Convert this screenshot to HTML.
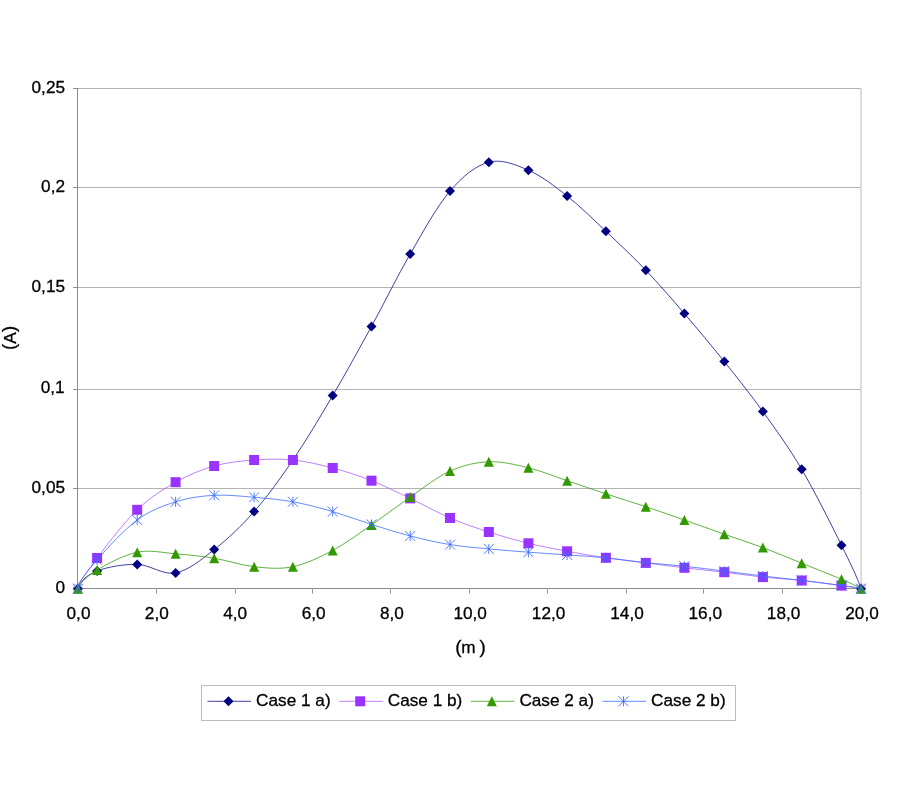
<!DOCTYPE html>
<html><head><meta charset="utf-8"><title>chart</title>
<style>
html,body{margin:0;padding:0;background:#fff;}
body{width:900px;height:800px;overflow:hidden;font-family:"Liberation Sans",sans-serif;}
svg{display:block;will-change:transform;}
text{font-family:"Liberation Sans",sans-serif;font-size:17.2px;fill:#000;stroke:#000;stroke-width:0.3px;}
</style></head><body>
<svg width="900" height="800" viewBox="0 0 900 800">
<rect width="900" height="800" fill="#fff"/>

<g stroke="#b4b4b4" stroke-width="1" fill="none">
<path d="M78 88.5H861"/>
<path d="M78 187.5H861"/>
<path d="M78 287.5H861"/>
<path d="M78 389.5H861"/>
<path d="M78 488.5H861"/>
</g>
<path d="M861 88V588.5" stroke="#d4d4d4" stroke-width="1.6" fill="none"/>
<g stroke="#8c8c8c" stroke-width="1" fill="none">
<path d="M77.5 88V589"/>
<path d="M77 588.5H861"/>
<path d="M73 88.5H78"/>
<path d="M73 187.5H78"/>
<path d="M73 287.5H78"/>
<path d="M73 389.5H78"/>
<path d="M73 488.5H78"/>
<path d="M73 588.5H78"/>
<path d="M77.50 588V593.6" stroke="#9a9a9a"/>
<path d="M156.50 588V593.6" stroke="#9a9a9a"/>
<path d="M235.50 588V593.6" stroke="#9a9a9a"/>
<path d="M312.50 588V593.6" stroke="#9a9a9a"/>
<path d="M390.50 588V593.6" stroke="#9a9a9a"/>
<path d="M469.50 588V593.6" stroke="#9a9a9a"/>
<path d="M547.50 588V593.6" stroke="#9a9a9a"/>
<path d="M626.50 588V593.6" stroke="#9a9a9a"/>
<path d="M703.50 588V593.6" stroke="#9a9a9a"/>
<path d="M782.50 588V593.6" stroke="#9a9a9a"/>
<path d="M861.50 588V593.6" stroke="#9a9a9a"/>
</g>
<text x="65.0" y="92.6" text-anchor="end">0,25</text>
<text x="65.0" y="191.6" text-anchor="end">0,2</text>
<text x="65.0" y="291.6" text-anchor="end">0,15</text>
<text x="64.6" y="393.4" text-anchor="end">0,1</text>
<text x="65.0" y="492.6" text-anchor="end">0,05</text>
<text x="65.0" y="592.6" text-anchor="end">0</text>
<text x="78.5" y="618.6" text-anchor="middle">0,0</text>
<text x="156.8" y="618.6" text-anchor="middle">2,0</text>
<text x="235.2" y="618.6" text-anchor="middle">4,0</text>
<text x="313.6" y="618.6" text-anchor="middle">6,0</text>
<text x="391.9" y="618.6" text-anchor="middle">8,0</text>
<text x="470.2" y="618.6" text-anchor="middle">10,0</text>
<text x="548.6" y="618.6" text-anchor="middle">12,0</text>
<text x="627.0" y="618.6" text-anchor="middle">14,0</text>
<text x="705.3" y="618.6" text-anchor="middle">16,0</text>
<text x="783.6" y="618.6" text-anchor="middle">18,0</text>
<text x="862.0" y="618.6" text-anchor="middle">20,0</text>
<text transform="translate(15.7 337.9) rotate(-90)" text-anchor="middle" font-size="17.6" letter-spacing="0.2"><tspan font-size="18.4" dy="-1">(</tspan><tspan dy="1">A</tspan><tspan font-size="18.4" dy="-1">)</tspan></text>
<text y="653.1" font-size="18"><tspan x="455.2" dy="0.3" font-size="18.8">(</tspan><tspan x="461.3" dy="-0.3">m</tspan><tspan x="479.6" dy="0.3" font-size="18.8">)</tspan></text>
<rect x="72.90" y="583.70" width="10.00" height="10.00" fill="#ebd2ff"/>
<rect x="856.00" y="583.70" width="10.00" height="10.00" fill="#ebd2ff"/>
<path d="M77.90 588.50 C78.86 587.62 79.31 578.23 97.10 571.00 C106.98 566.98 124.12 564.08 137.20 564.40 C150.28 564.72 162.77 575.37 175.60 572.90 C188.43 570.43 201.12 559.82 214.20 549.60 C227.28 539.38 240.98 526.53 254.10 511.60 C267.22 496.67 279.80 479.33 292.90 460.00 C306.00 440.67 319.60 417.87 332.70 395.60 C345.80 373.33 358.58 350.00 371.50 326.40 C384.42 302.80 397.12 276.55 410.20 254.00 C423.28 231.45 436.90 206.40 450.00 191.10 C463.10 175.80 475.73 165.68 488.80 162.20 C501.87 158.72 515.35 164.57 528.40 170.20 C541.45 175.83 554.18 185.82 567.10 196.00 C580.02 206.18 592.78 218.93 605.90 231.30 C619.02 243.67 632.72 256.48 645.80 270.20 C658.88 283.92 671.32 298.37 684.40 313.60 C697.48 328.83 711.22 345.27 724.30 361.60 C737.38 377.93 750.00 393.65 762.90 411.60 C775.80 429.55 788.60 447.03 801.70 469.30 C814.80 491.57 831.62 525.38 841.50 545.25 C859.29 581.01 860.02 586.34 861.00 588.50" stroke="#10108a" stroke-width="0.8" fill="none"/>
<path d="M77.90 583.70 l5.00 5.00 l-5.00 5.00 l-5.00 -5.00 z" fill="#000080"/>
<path d="M97.10 566.00 l5.00 5.00 l-5.00 5.00 l-5.00 -5.00 z" fill="#000080"/>
<path d="M137.20 559.40 l5.00 5.00 l-5.00 5.00 l-5.00 -5.00 z" fill="#000080"/>
<path d="M175.60 567.90 l5.00 5.00 l-5.00 5.00 l-5.00 -5.00 z" fill="#000080"/>
<path d="M214.20 544.60 l5.00 5.00 l-5.00 5.00 l-5.00 -5.00 z" fill="#000080"/>
<path d="M254.10 506.60 l5.00 5.00 l-5.00 5.00 l-5.00 -5.00 z" fill="#000080"/>
<path d="M292.90 455.00 l5.00 5.00 l-5.00 5.00 l-5.00 -5.00 z" fill="#000080"/>
<path d="M332.70 390.60 l5.00 5.00 l-5.00 5.00 l-5.00 -5.00 z" fill="#000080"/>
<path d="M371.50 321.40 l5.00 5.00 l-5.00 5.00 l-5.00 -5.00 z" fill="#000080"/>
<path d="M410.20 249.00 l5.00 5.00 l-5.00 5.00 l-5.00 -5.00 z" fill="#000080"/>
<path d="M450.00 186.10 l5.00 5.00 l-5.00 5.00 l-5.00 -5.00 z" fill="#000080"/>
<path d="M488.80 157.20 l5.00 5.00 l-5.00 5.00 l-5.00 -5.00 z" fill="#000080"/>
<path d="M528.40 165.20 l5.00 5.00 l-5.00 5.00 l-5.00 -5.00 z" fill="#000080"/>
<path d="M567.10 191.00 l5.00 5.00 l-5.00 5.00 l-5.00 -5.00 z" fill="#000080"/>
<path d="M605.90 226.30 l5.00 5.00 l-5.00 5.00 l-5.00 -5.00 z" fill="#000080"/>
<path d="M645.80 265.20 l5.00 5.00 l-5.00 5.00 l-5.00 -5.00 z" fill="#000080"/>
<path d="M684.40 308.60 l5.00 5.00 l-5.00 5.00 l-5.00 -5.00 z" fill="#000080"/>
<path d="M724.30 356.60 l5.00 5.00 l-5.00 5.00 l-5.00 -5.00 z" fill="#000080"/>
<path d="M762.90 406.60 l5.00 5.00 l-5.00 5.00 l-5.00 -5.00 z" fill="#000080"/>
<path d="M801.70 464.30 l5.00 5.00 l-5.00 5.00 l-5.00 -5.00 z" fill="#000080"/>
<path d="M841.50 540.25 l5.00 5.00 l-5.00 5.00 l-5.00 -5.00 z" fill="#000080"/>
<path d="M861.00 583.70 l5.00 5.00 l-5.00 5.00 l-5.00 -5.00 z" fill="#000080"/>
<path d="M77.90 588.50 C78.86 586.98 72.19 591.05 97.10 558.00 C106.98 544.88 124.12 522.43 137.20 509.80 C150.28 497.17 162.77 489.50 175.60 482.20 C188.43 474.90 201.12 469.70 214.20 466.00 C227.28 462.30 240.98 461.00 254.10 460.00 C267.22 459.00 279.80 458.67 292.90 460.00 C306.00 461.33 319.60 464.55 332.70 468.00 C345.80 471.45 358.58 475.63 371.50 480.70 C384.42 485.77 397.12 492.18 410.20 498.40 C423.28 504.62 436.90 512.40 450.00 518.00 C463.10 523.60 475.73 527.78 488.80 532.00 C501.87 536.22 515.35 540.08 528.40 543.30 C541.45 546.52 554.18 548.88 567.10 551.30 C580.02 553.72 592.78 555.87 605.90 557.80 C619.02 559.73 632.72 561.23 645.80 562.90 C658.88 564.57 671.32 566.25 684.40 567.80 C697.48 569.35 711.22 570.65 724.30 572.20 C737.38 573.75 750.00 575.72 762.90 577.10 C775.80 578.48 788.60 579.08 801.70 580.50 C814.80 581.92 831.62 584.27 841.50 585.60 C866.41 588.96 860.02 588.36 861.00 588.50" stroke="#b060ff" stroke-width="0.8" fill="none"/>
<rect x="92.10" y="553.00" width="10.00" height="10.00" fill="#9933ff"/>
<rect x="132.20" y="504.80" width="10.00" height="10.00" fill="#9933ff"/>
<rect x="170.60" y="477.20" width="10.00" height="10.00" fill="#9933ff"/>
<rect x="209.20" y="461.00" width="10.00" height="10.00" fill="#9933ff"/>
<rect x="249.10" y="455.00" width="10.00" height="10.00" fill="#9933ff"/>
<rect x="287.90" y="455.00" width="10.00" height="10.00" fill="#9933ff"/>
<rect x="327.70" y="463.00" width="10.00" height="10.00" fill="#9933ff"/>
<rect x="366.50" y="475.70" width="10.00" height="10.00" fill="#9933ff"/>
<rect x="405.20" y="493.40" width="10.00" height="10.00" fill="#9933ff"/>
<rect x="445.00" y="513.00" width="10.00" height="10.00" fill="#9933ff"/>
<rect x="483.80" y="527.00" width="10.00" height="10.00" fill="#9933ff"/>
<rect x="523.40" y="538.30" width="10.00" height="10.00" fill="#9933ff"/>
<rect x="562.10" y="546.30" width="10.00" height="10.00" fill="#9933ff"/>
<rect x="600.90" y="552.80" width="10.00" height="10.00" fill="#9933ff"/>
<rect x="640.80" y="557.90" width="10.00" height="10.00" fill="#9933ff"/>
<rect x="679.40" y="562.80" width="10.00" height="10.00" fill="#9933ff"/>
<rect x="719.30" y="567.20" width="10.00" height="10.00" fill="#9933ff"/>
<rect x="757.90" y="572.10" width="10.00" height="10.00" fill="#9933ff"/>
<rect x="796.70" y="575.50" width="10.00" height="10.00" fill="#9933ff"/>
<rect x="836.50" y="580.60" width="10.00" height="10.00" fill="#9933ff"/>
<path d="M77.90 588.50 C78.86 587.58 79.90 580.53 97.10 570.00 C106.98 563.95 124.12 554.90 137.20 552.20 C150.28 549.50 162.77 552.80 175.60 553.80 C188.43 554.80 201.12 556.05 214.20 558.20 C227.28 560.35 240.98 565.28 254.10 566.70 C267.22 568.12 279.80 569.42 292.90 566.70 C306.00 563.98 319.60 557.37 332.70 550.40 C345.80 543.43 358.58 533.78 371.50 524.90 C384.42 516.02 397.12 506.07 410.20 497.10 C423.28 488.13 436.90 476.98 450.00 471.10 C463.10 465.22 475.73 462.35 488.80 461.80 C501.87 461.25 515.35 464.65 528.40 467.80 C541.45 470.95 554.18 476.37 567.10 480.70 C580.02 485.03 592.78 489.47 605.90 493.80 C619.02 498.13 632.72 502.33 645.80 506.70 C658.88 511.07 671.32 515.42 684.40 520.00 C697.48 524.58 711.22 529.60 724.30 534.20 C737.38 538.80 750.00 542.77 762.90 547.60 C775.80 552.43 788.60 557.92 801.70 563.20 C814.80 568.48 831.62 575.08 841.50 579.30 C858.70 586.64 860.02 588.04 861.00 588.50" stroke="#33a010" stroke-width="0.8" fill="none"/>
<path d="M77.90 583.70 L82.90 593.70 L72.90 593.70 z" fill="#339900"/>
<path d="M97.10 565.00 L102.10 575.00 L92.10 575.00 z" fill="#339900"/>
<path d="M137.20 547.20 L142.20 557.20 L132.20 557.20 z" fill="#339900"/>
<path d="M175.60 548.80 L180.60 558.80 L170.60 558.80 z" fill="#339900"/>
<path d="M214.20 553.20 L219.20 563.20 L209.20 563.20 z" fill="#339900"/>
<path d="M254.10 561.70 L259.10 571.70 L249.10 571.70 z" fill="#339900"/>
<path d="M292.90 561.70 L297.90 571.70 L287.90 571.70 z" fill="#339900"/>
<path d="M332.70 545.40 L337.70 555.40 L327.70 555.40 z" fill="#339900"/>
<path d="M371.50 519.90 L376.50 529.90 L366.50 529.90 z" fill="#339900"/>
<path d="M410.20 492.10 L415.20 502.10 L405.20 502.10 z" fill="#339900"/>
<path d="M450.00 466.10 L455.00 476.10 L445.00 476.10 z" fill="#339900"/>
<path d="M488.80 456.80 L493.80 466.80 L483.80 466.80 z" fill="#339900"/>
<path d="M528.40 462.80 L533.40 472.80 L523.40 472.80 z" fill="#339900"/>
<path d="M567.10 475.70 L572.10 485.70 L562.10 485.70 z" fill="#339900"/>
<path d="M605.90 488.80 L610.90 498.80 L600.90 498.80 z" fill="#339900"/>
<path d="M645.80 501.70 L650.80 511.70 L640.80 511.70 z" fill="#339900"/>
<path d="M684.40 515.00 L689.40 525.00 L679.40 525.00 z" fill="#339900"/>
<path d="M724.30 529.20 L729.30 539.20 L719.30 539.20 z" fill="#339900"/>
<path d="M762.90 542.60 L767.90 552.60 L757.90 552.60 z" fill="#339900"/>
<path d="M801.70 558.20 L806.70 568.20 L796.70 568.20 z" fill="#339900"/>
<path d="M841.50 574.30 L846.50 584.30 L836.50 584.30 z" fill="#339900"/>
<path d="M861.00 583.70 L866.00 593.70 L856.00 593.70 z" fill="#339900"/>
<path d="M77.90 588.50 C78.86 587.07 72.19 588.67 97.10 559.90 C106.98 548.48 124.12 529.68 137.20 520.00 C150.28 510.32 162.77 505.92 175.60 501.80 C188.43 497.68 201.12 496.05 214.20 495.30 C227.28 494.55 240.98 496.22 254.10 497.30 C267.22 498.38 279.80 499.42 292.90 501.80 C306.00 504.18 319.60 507.83 332.70 511.60 C345.80 515.37 358.58 520.33 371.50 524.40 C384.42 528.47 397.12 532.63 410.20 536.00 C423.28 539.37 436.90 542.45 450.00 544.60 C463.10 546.75 475.73 547.63 488.80 548.90 C501.87 550.17 515.35 551.20 528.40 552.20 C541.45 553.20 554.18 553.97 567.10 554.90 C580.02 555.83 592.78 556.50 605.90 557.80 C619.02 559.10 632.72 561.30 645.80 562.70 C658.88 564.10 671.32 564.80 684.40 566.20 C697.48 567.60 711.22 569.47 724.30 571.10 C737.38 572.73 750.00 574.45 762.90 576.00 C775.80 577.55 788.60 578.82 801.70 580.40 C814.80 581.98 831.62 584.15 841.50 585.50 C866.41 588.90 860.02 588.35 861.00 588.50" stroke="#3d6dff" stroke-width="0.8" fill="none"/>
<path d="M77.90 583.70V593.70 M72.90 583.70L82.90 593.70 M72.90 593.70L82.90 583.70" stroke="#3366ff" stroke-width="0.85" fill="none"/>
<path d="M97.10 554.90V564.90 M92.10 554.90L102.10 564.90 M92.10 564.90L102.10 554.90" stroke="#3366ff" stroke-width="0.85" fill="none"/>
<path d="M137.20 515.00V525.00 M132.20 515.00L142.20 525.00 M132.20 525.00L142.20 515.00" stroke="#3366ff" stroke-width="0.85" fill="none"/>
<path d="M175.60 496.80V506.80 M170.60 496.80L180.60 506.80 M170.60 506.80L180.60 496.80" stroke="#3366ff" stroke-width="0.85" fill="none"/>
<path d="M214.20 490.30V500.30 M209.20 490.30L219.20 500.30 M209.20 500.30L219.20 490.30" stroke="#3366ff" stroke-width="0.85" fill="none"/>
<path d="M254.10 492.30V502.30 M249.10 492.30L259.10 502.30 M249.10 502.30L259.10 492.30" stroke="#3366ff" stroke-width="0.85" fill="none"/>
<path d="M292.90 496.80V506.80 M287.90 496.80L297.90 506.80 M287.90 506.80L297.90 496.80" stroke="#3366ff" stroke-width="0.85" fill="none"/>
<path d="M332.70 506.60V516.60 M327.70 506.60L337.70 516.60 M327.70 516.60L337.70 506.60" stroke="#3366ff" stroke-width="0.85" fill="none"/>
<path d="M371.50 519.40V529.40 M366.50 519.40L376.50 529.40 M366.50 529.40L376.50 519.40" stroke="#3366ff" stroke-width="0.85" fill="none"/>
<path d="M410.20 531.00V541.00 M405.20 531.00L415.20 541.00 M405.20 541.00L415.20 531.00" stroke="#3366ff" stroke-width="0.85" fill="none"/>
<path d="M450.00 539.60V549.60 M445.00 539.60L455.00 549.60 M445.00 549.60L455.00 539.60" stroke="#3366ff" stroke-width="0.85" fill="none"/>
<path d="M488.80 543.90V553.90 M483.80 543.90L493.80 553.90 M483.80 553.90L493.80 543.90" stroke="#3366ff" stroke-width="0.85" fill="none"/>
<path d="M528.40 547.20V557.20 M523.40 547.20L533.40 557.20 M523.40 557.20L533.40 547.20" stroke="#3366ff" stroke-width="0.85" fill="none"/>
<path d="M567.10 549.90V559.90 M562.10 549.90L572.10 559.90 M562.10 559.90L572.10 549.90" stroke="#3366ff" stroke-width="0.85" fill="none"/>
<path d="M605.90 552.80V562.80 M600.90 552.80L610.90 562.80 M600.90 562.80L610.90 552.80" stroke="#3366ff" stroke-width="0.85" fill="none"/>
<path d="M645.80 557.70V567.70 M640.80 557.70L650.80 567.70 M640.80 567.70L650.80 557.70" stroke="#3366ff" stroke-width="0.85" fill="none"/>
<path d="M684.40 561.20V571.20 M679.40 561.20L689.40 571.20 M679.40 571.20L689.40 561.20" stroke="#3366ff" stroke-width="0.85" fill="none"/>
<path d="M724.30 566.10V576.10 M719.30 566.10L729.30 576.10 M719.30 576.10L729.30 566.10" stroke="#3366ff" stroke-width="0.85" fill="none"/>
<path d="M762.90 571.00V581.00 M757.90 571.00L767.90 581.00 M757.90 581.00L767.90 571.00" stroke="#3366ff" stroke-width="0.85" fill="none"/>
<path d="M801.70 575.40V585.40 M796.70 575.40L806.70 585.40 M796.70 585.40L806.70 575.40" stroke="#3366ff" stroke-width="0.85" fill="none"/>
<path d="M841.50 580.50V590.50 M836.50 580.50L846.50 590.50 M836.50 590.50L846.50 580.50" stroke="#3366ff" stroke-width="0.85" fill="none"/>
<path d="M861.00 583.70V593.70 M856.00 583.70L866.00 593.70 M856.00 593.70L866.00 583.70" stroke="#3366ff" stroke-width="0.85" fill="none"/>
<rect x="201.5" y="685.5" width="534" height="35" fill="#fff" stroke="#bebebe" stroke-width="1"/>
<path d="M207.5 701.3H251.0" stroke="#10108a" stroke-width="0.8" fill="none"/>
<path d="M228.50 696.30 l5.00 5.00 l-5.00 5.00 l-5.00 -5.00 z" fill="#000080"/>
<text x="256.1" y="706.4">Case 1 a)</text>
<path d="M339.2 701.3H382.7" stroke="#b060ff" stroke-width="0.8" fill="none"/>
<rect x="355.20" y="696.30" width="10.00" height="10.00" fill="#9933ff"/>
<text x="387.8" y="706.4">Case 1 b)</text>
<path d="M470.8 701.3H514.3" stroke="#33a010" stroke-width="0.8" fill="none"/>
<path d="M491.80 696.30 L496.80 706.30 L486.80 706.30 z" fill="#339900"/>
<text x="519.4" y="706.4">Case 2 a)</text>
<path d="M602.5 701.3H646.0" stroke="#3d6dff" stroke-width="0.8" fill="none"/>
<path d="M623.50 696.30V706.30 M618.50 696.30L628.50 706.30 M618.50 706.30L628.50 696.30" stroke="#3366ff" stroke-width="0.85" fill="none"/>
<text x="651.1" y="706.4">Case 2 b)</text>
</svg></body></html>
